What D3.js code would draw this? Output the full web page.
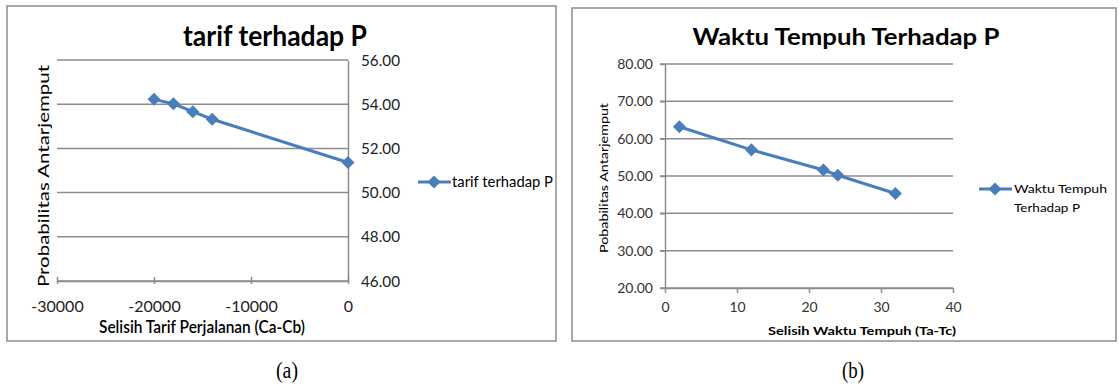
<!DOCTYPE html>
<html>
<head>
<meta charset="utf-8">
<script src="https://cdn.jsdelivr.net/npm/d3@7"></script>
<style>
  body { margin: 0; background: #fff; }
  svg { display: block; font-family: Lato, "Open Sans", sans-serif; }
</style>
</head>
<body>
<svg id="draw-here" width="1119" height="385"></svg>
<script>
// chart (a): tarif terhadap P
const tarifX = [-20000, -18000, -16000, -14000, 0];
const tarifP = [54.22, 54.02, 53.66, 53.32, 51.36];
const tarifXTicks = [-30000, -20000, -10000, 0];
const tarifYTicks = [46, 48, 50, 52, 54, 56];

// chart (b): waktu tempuh terhadap P
const waktuX = [2, 12, 22, 24, 32];
const waktuP = [63.2, 57.0, 51.6, 50.2, 45.3];
const waktuXTicks = [0, 10, 20, 30, 40];
const waktuYTicks = [20, 30, 40, 50, 60, 70, 80];

const blue = '#4a7ebb';
const grey = '#8c8c8c';

let svg = d3.select('#draw-here');

// frames
svg.append('rect').attr('x', 7).attr('y', 6).attr('width', 549).attr('height', 335)
  .attr('fill', 'none').attr('stroke', grey).attr('stroke-width', 1.5);
svg.append('rect').attr('x', 572).attr('y', 8).attr('width', 544).attr('height', 333)
  .attr('fill', 'none').attr('stroke', grey).attr('stroke-width', 1.5);

function diamond(g, pts) {
  g.selectAll('path.pt')
    .data(pts)
    .enter().append('path')
    .attr('class', 'pt')
    .attr('d', d3.symbol(d3.symbolSquare, 85))
    .attr('transform', d => 'translate(' + d[0] + ',' + d[1] + ') rotate(45)')
    .attr('fill', blue);
}

// ---------- (a) ----------
let xa = d3.scaleLinear().domain([-30000, 0]).range([57, 348]);
let ya = d3.scaleLinear().domain([46, 56]).range([281, 60]);
let ga = svg.append('g');

// gridlines
ga.append('g')
  .selectAll('line')
  .data(tarifYTicks)
  .enter().append('line')
  .attr('x1', xa(-30000)).attr('x2', xa(0))
  .attr('y1', d => ya(d)).attr('y2', d => ya(d))
  .attr('stroke', grey).attr('stroke-width', 1.5);

// right y axis
let axA = ga.append('g')
  .attr('transform', 'translate(' + xa(0) + ',0)')
  .call(d3.axisRight(ya).tickValues(tarifYTicks).tickFormat(d3.format('.2f')).tickSize(0).tickPadding(13));
axA.select('.domain').attr('stroke', grey).attr('stroke-width', 1.5);
axA.selectAll('text').attr('font-size', 16).attr('font-family', 'Lato').attr('fill', '#222')
  .attr('textLength', 39).attr('lengthAdjust', 'spacingAndGlyphs');

// x axis
let axAx = ga.append('g')
  .attr('transform', 'translate(0,' + ya(46) + ')')
  .call(d3.axisBottom(xa).tickValues(tarifXTicks).tickFormat(d3.format('d')).tickSize(4).tickSizeOuter(0).tickPadding(16));
axAx.select('.domain').attr('stroke', grey).attr('stroke-width', 1.5);
axAx.selectAll('line').attr('stroke', grey).attr('stroke-width', 1.5).attr('y1', -4).attr('y2', 3);
axAx.selectAll('text').attr('font-size', 16).attr('font-family', 'Lato').attr('fill', '#222')
  .text(d => d < 0 ? '-' + Math.abs(d) : d);

let lineA = d3.line().x(d => xa(d[0])).y(d => ya(d[1]));
let ptsA = tarifX.map((v, i) => [v, tarifP[i]]);
ga.append('path').attr('d', lineA(ptsA)).attr('fill', 'none').attr('stroke', blue).attr('stroke-width', 3);
diamond(ga, ptsA.map(d => [xa(d[0]), ya(d[1])]));

ga.append('text').attr('x', 275).attr('y', 46).attr('text-anchor', 'middle')
  .attr('font-size', 28).attr('font-weight', 'bold').attr('textLength', 184).attr('lengthAdjust', 'spacingAndGlyphs')
  .text('tarif terhadap P');
ga.append('text').attr('transform', 'translate(49,176) rotate(-90)').attr('text-anchor', 'middle')
  .attr('font-size', 16).attr('textLength', 222).attr('lengthAdjust', 'spacingAndGlyphs')
  .text('Probabilitas Antarjemput');
ga.append('text').attr('x', 202).attr('y', 333).attr('text-anchor', 'middle')
  .attr('font-size', 17).attr('font-weight', 600).attr('textLength', 206).attr('lengthAdjust', 'spacingAndGlyphs')
  .text('Selisih Tarif Perjalanan (Ca-Cb)');

// legend (a)
ga.append('line').attr('x1', 418).attr('x2', 451).attr('y1', 182).attr('y2', 182)
  .attr('stroke', blue).attr('stroke-width', 3);
diamond(ga.append('g'), [[434, 182]]);
ga.append('text').attr('x', 452).attr('y', 187).attr('font-size', 15)
  .attr('textLength', 101).attr('lengthAdjust', 'spacingAndGlyphs').text('tarif terhadap P');

// ---------- (b) ----------
let xb = d3.scaleLinear().domain([0, 40]).range([665, 953]);
let yb = d3.scaleLinear().domain([20, 80]).range([288, 64]);
let gb = svg.append('g');

gb.append('g')
  .selectAll('line')
  .data(waktuYTicks)
  .enter().append('line')
  .attr('x1', xb(0) - 5).attr('x2', xb(40))
  .attr('y1', d => yb(d)).attr('y2', d => yb(d))
  .attr('stroke', grey).attr('stroke-width', 1.5);

let axB = gb.append('g')
  .attr('transform', 'translate(' + xb(0) + ',0)')
  .call(d3.axisLeft(yb).tickValues(waktuYTicks).tickFormat(d3.format('.2f')).tickSize(5).tickSizeOuter(0).tickPadding(7));
axB.select('.domain').attr('stroke', grey).attr('stroke-width', 1.5);
axB.selectAll('line').attr('stroke', grey).attr('stroke-width', 1.5);
axB.selectAll('text').attr('font-size', 14).attr('font-family', 'Lato').attr('fill', '#333');

let axBx = gb.append('g')
  .attr('transform', 'translate(0,' + yb(20) + ')')
  .call(d3.axisBottom(xb).tickValues(waktuXTicks).tickSize(5).tickSizeOuter(0).tickPadding(9));
axBx.select('.domain').attr('stroke', grey).attr('stroke-width', 1.5);
axBx.selectAll('line').attr('stroke', grey).attr('stroke-width', 1.5);
axBx.selectAll('text').attr('font-size', 14).attr('font-family', 'Lato').attr('fill', '#333');

let lineB = d3.line().x(d => xb(d[0])).y(d => yb(d[1]));
let ptsB = waktuX.map((v, i) => [v, waktuP[i]]);
gb.append('path').attr('d', lineB(ptsB)).attr('fill', 'none').attr('stroke', blue).attr('stroke-width', 3);
diamond(gb, ptsB.map(d => [xb(d[0]), yb(d[1])]));

gb.append('text').attr('x', 846).attr('y', 45).attr('text-anchor', 'middle')
  .attr('font-size', 23).attr('font-weight', 'bold').attr('textLength', 307).attr('lengthAdjust', 'spacingAndGlyphs')
  .text('Waktu Tempuh Terhadap P');
gb.append('text').attr('transform', 'translate(608,178) rotate(-90)').attr('text-anchor', 'middle')
  .attr('font-size', 12).attr('textLength', 150).attr('lengthAdjust', 'spacingAndGlyphs')
  .text('Pobabilitas  Antarjemput');
gb.append('text').attr('x', 862).attr('y', 335).attr('text-anchor', 'middle')
  .attr('font-size', 12).attr('font-weight', 'bold').attr('textLength', 188).attr('lengthAdjust', 'spacingAndGlyphs')
  .text('Selisih  Waktu  Tempuh  (Ta-Tc)');

// legend (b)
gb.append('line').attr('x1', 979).attr('x2', 1012).attr('y1', 189).attr('y2', 189)
  .attr('stroke', blue).attr('stroke-width', 3);
diamond(gb.append('g'), [[995, 189]]);
gb.append('text').attr('x', 1014).attr('y', 193).attr('font-size', 12)
  .attr('textLength', 93).attr('lengthAdjust', 'spacingAndGlyphs').text('Waktu Tempuh');
gb.append('text').attr('x', 1014).attr('y', 212).attr('font-size', 12)
  .attr('textLength', 66).attr('lengthAdjust', 'spacingAndGlyphs').text('Terhadap P');

// captions
svg.append('text').attr('x', 287).attr('y', 378).attr('text-anchor', 'middle')
  .attr('font-family', '"Liberation Serif", serif').attr('font-size', 24)
  .attr('textLength', 22).attr('lengthAdjust', 'spacingAndGlyphs').text('(a)');
svg.append('text').attr('x', 853).attr('y', 378).attr('text-anchor', 'middle')
  .attr('font-family', '"Liberation Serif", serif').attr('font-size', 24)
  .attr('textLength', 22).attr('lengthAdjust', 'spacingAndGlyphs').text('(b)');
</script>
</body>
</html>
